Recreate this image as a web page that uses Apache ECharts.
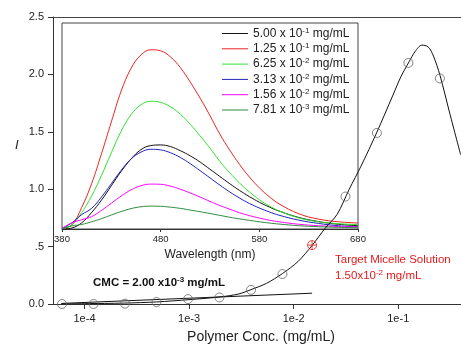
<!DOCTYPE html>
<html><head><meta charset="utf-8">
<script src="https://cdn.jsdelivr.net/npm/echarts@6/dist/echarts.min.js"></script>
<style>html,body{margin:0;padding:0;background:#fff}#c{width:461px;height:349px}</style>
</head><body><div id="c"></div>
<script>
// ---- Main chart data ----
const concMarkers = [6.1e-5, 1.22e-4, 2.44e-4, 4.88e-4, 9.77e-4, 1.95e-3, 3.91e-3, 7.81e-3, 3.13e-2, 6.25e-2, 1.25e-1, 2.5e-1];
const intensityMarkers = [0.0, 0.0, 0.003, 0.017, 0.043, 0.057, 0.123, 0.261, 0.936, 1.49, 2.10, 1.965];
const fitConc = [6.0e-5, 1.0e-4, 2.4e-4, 4.9e-4, 1.0e-3, 2.0e-3, 3.0e-3, 3.9e-3, 5.5e-3, 7.8e-3, 1.1e-2, 1.5e-2, 2.0e-2, 2.6e-2, 3.4e-2, 4.4e-2, 6.2e-2, 8.9e-2, 1.06e-1, 1.27e-1, 1.45e-1, 1.68e-1, 1.93e-1, 2.17e-1, 2.51e-1, 3.13e-1, 3.95e-1];
const fitIntensity = [0.0, 0.003, 0.008, 0.018, 0.038, 0.062, 0.088, 0.125, 0.18, 0.265, 0.37, 0.51, 0.66, 0.78, 1.0, 1.2, 1.49, 1.82, 1.98, 2.11, 2.20, 2.255, 2.24, 2.16, 1.99, 1.65, 1.30];
const baseConc = [6.0e-5, 1.5e-2];
const baseIntensity = [0.005, 0.094];
const targetConc = [1.5e-2];
const targetIntensity = [0.513];

// ---- Inset spectra data ----
const wavelengths = [380, 390, 400, 410, 420, 430, 440, 450, 460, 470, 480, 490, 500, 510, 520, 530, 540, 550, 560, 570, 580, 590, 600, 620, 640, 660, 680];
const legendNames = ['5.00 x 10{s|-1} mg/mL', '1.25 x 10{s|-1} mg/mL', '6.25 x 10{s|-2} mg/mL', '3.13 x 10{s|-2} mg/mL', '1.56 x 10{s|-2} mg/mL', '7.81 x 10{s|-3} mg/mL'];
const spec500 = [0, 0.5, 3, 8, 14, 21, 28, 34, 38.5, 40.5, 40.8, 40, 38, 35.5, 32.5, 29, 25.5, 22, 18.7, 15.7, 13, 10.7, 8.7, 5.6, 3.6, 2.3, 1.6];
const spec125 = [0.3, 2, 10.5, 22, 36.5, 52, 67, 78, 84.5, 87, 86.5, 83.5, 78.3, 71.3, 63.5, 55, 46, 38.3, 31.3, 25.2, 20, 15.7, 12.2, 7.4, 4.8, 3.5, 2.9];
const spec625 = [0.3, 2, 8, 16, 26, 37, 47.5, 55.5, 60.3, 62, 61.5, 59.3, 55.7, 50.8, 45.2, 39.2, 32.8, 27.3, 22.3, 18, 14.2, 11.2, 8.8, 5.4, 3.5, 2.6, 2.1];
const spec313 = [0.2, 3, 7, 10, 15.5, 22, 28.5, 34, 37.3, 38.7, 38.4, 37, 34.7, 31.7, 28.3, 24.8, 21.3, 18, 15, 12.4, 10.2, 8.3, 6.7, 4.3, 2.7, 1.6, 1.0];
const spec156 = [0.3, 3, 4.5, 6, 9, 12.5, 16, 19, 21, 21.8, 21.7, 20.8, 19.3, 17.5, 15.5, 13.4, 11.4, 9.6, 7.9, 6.5, 5.3, 4.3, 3.5, 2.3, 1.6, 1.2, 1.0];
const spec781 = [0, 1.5, 2.2, 3.5, 5, 6.8, 8.5, 9.9, 10.8, 11.1, 11, 10.6, 10, 9.2, 8.4, 7.5, 6.6, 5.7, 4.9, 4.2, 3.5, 2.9, 2.4, 1.6, 1.1, 0.8, 0.6];
const specColors = ['#111111', '#ee2222', '#33e033', '#2222bb', '#ff00ff', '#2e8b3e'];
const spectra = [spec500, spec125, spec625, spec313, spec156, spec781];

const FONT = 'Liberation Sans, Arial, sans-serif';
const zip = (a, b) => a.map((v, i) => [v, b[i]]);

const chart = echarts.init(document.getElementById('c'));
const series = [];
spectra.forEach((s, i) => {
  series.push({
    name: legendNames[i], type: 'line', xAxisIndex: 1, yAxisIndex: 1,
    data: zip(wavelengths, s), smooth: 0.4, symbol: 'none',
    lineStyle: { color: specColors[i], width: 1 }, itemStyle: { color: specColors[i] }, z: 2
  });
});
series.push({ type: 'line', xAxisIndex: 0, yAxisIndex: 0, data: zip(baseConc, baseIntensity), symbol: 'none', lineStyle: { color: '#111', width: 1 }, z: 3 });
series.push({ type: 'line', xAxisIndex: 0, yAxisIndex: 0, data: zip(fitConc, fitIntensity), smooth: 0.3, symbol: 'none', lineStyle: { color: '#111', width: 1 }, z: 3 });
series.push({ type: 'scatter', xAxisIndex: 0, yAxisIndex: 0, data: zip(concMarkers, intensityMarkers), symbol: 'circle', symbolSize: 9,
  itemStyle: { color: 'rgba(0,0,0,0)', borderColor: '#666', borderWidth: 1 }, z: 4 });
series.push({ type: 'scatter', xAxisIndex: 0, yAxisIndex: 0, data: zip(targetConc, targetIntensity),
  symbol: 'path://M10,0A10,10,0,1,1,10,20A10,10,0,1,1,10,0ZM0,10L20,10M10,0L10,20', symbolSize: 9,
  itemStyle: { color: 'rgba(0,0,0,0)', borderColor: '#e31a1c', borderWidth: 1 }, z: 5 });

chart.setOption({
  animation: false,
  textStyle: { fontFamily: FONT },
  grid: [
    { left: 53, right: 0, top: 17, bottom: 42, show: false },
    { left: 62, right: 103, top: 23, bottom: 120, show: true, borderColor: '#444', borderWidth: 1 }
  ],
  xAxis: [
    { type: 'log', logBase: 10, gridIndex: 0, min: 5e-5, max: 0.398,
      axisLine: { lineStyle: { color: '#333' } }, axisTick: { length: 5, lineStyle: { color: '#333' } },
      splitLine: { show: false }, minorTick: { show: false },
      axisLabel: { color: '#222', fontSize: 11, margin: 9, showMinLabel: false, showMaxLabel: false,
        formatter: v => Number(v).toExponential(0).replace('+', '') },
      name: 'Polymer Conc. (mg/mL)', nameLocation: 'middle', nameGap: 26,
      nameTextStyle: { fontSize: 14, color: '#222', fontFamily: FONT, padding: [0, 0, 0, 8] } },
    { type: 'value', gridIndex: 1, min: 380, max: 680, interval: 100,
      axisLine: { lineStyle: { color: '#333' } }, axisTick: { length: 3, lineStyle: { color: '#333' } },
      splitLine: { show: false },
      axisLabel: { color: '#222', fontSize: 9.5, margin: 5 },
      name: 'Wavelength (nm)', nameLocation: 'middle', nameGap: 18,
      nameTextStyle: { fontSize: 12, color: '#222', fontFamily: FONT } },
    { type: 'log', logBase: 10, gridIndex: 0, min: 5e-5, max: 0.398, position: 'top',
      axisLine: { show: true, onZero: false, lineStyle: { color: '#444' } }, axisTick: { show: false },
      axisLabel: { show: false }, splitLine: { show: false } }
  ],
  yAxis: [
    { type: 'value', gridIndex: 0, min: 0, max: 2.5, interval: 0.5,
      axisLine: { show: true, lineStyle: { color: '#333' } }, axisTick: { show: true, length: 5, lineStyle: { color: '#333' } },
      splitLine: { show: false },
      axisLabel: { color: '#222', fontSize: 11, margin: 9, formatter: v => (v === 0.5 ? '.5' : v.toFixed(1)) } },
    { type: 'value', gridIndex: 1, min: 0, max: 100, show: false, splitLine: { show: false } }
  ],
  legend: {
    orient: 'vertical', left: 222, top: 26.5, padding: 0, icon: 'rect', itemWidth: 26, itemHeight: 1, itemGap: 1.3,
    data: legendNames, selectedMode: false,
    textStyle: { fontSize: 12, lineHeight: 14, color: '#222', fontFamily: FONT,
      rich: { s: { fontSize: 8, lineHeight: 14, verticalAlign: 'top', fontFamily: FONT, color: '#222' } } }
  },
  graphic: [
    { type: 'text', left: 15, top: 139, style: { text: 'I', font: 'italic 13px ' + FONT, fill: '#222' } },
    { type: 'text', left: 93, top: 276, style: { text: 'CMC = 2.00 x10{s|-3} mg/mL', font: 'bold 11.5px ' + FONT, fill: '#111', lineHeight: 14,
      rich: { s: { fontSize: 8, lineHeight: 14, verticalAlign: 'top', fontWeight: 'bold', fontFamily: FONT, fill: '#111' } } } },
    { type: 'text', left: 335, top: 254, style: { text: 'Target Micelle Solution', font: '11.5px ' + FONT, fill: '#e31a1c' } },
    { type: 'text', left: 335, top: 269, style: { text: '1.50x10{s|-2} mg/mL', font: '11.5px ' + FONT, fill: '#e31a1c', lineHeight: 14,
      rich: { s: { fontSize: 8, lineHeight: 14, verticalAlign: 'top', fontFamily: FONT, fill: '#e31a1c' } } } }
  ],
  series: series
});
</script></body></html>
